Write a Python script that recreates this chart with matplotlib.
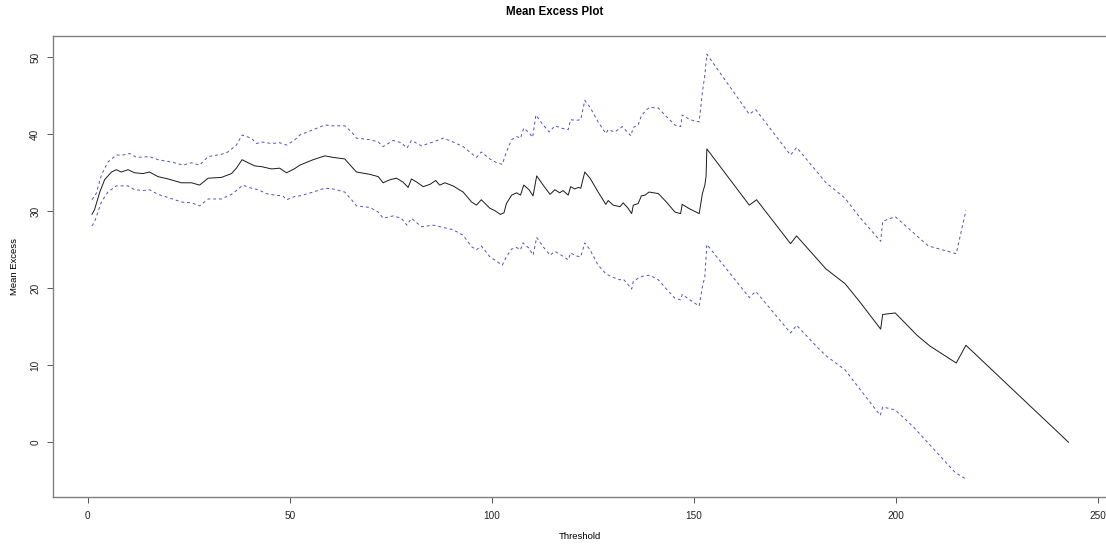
import matplotlib
matplotlib.use("Agg")
import matplotlib.pyplot as plt

plt.rcParams["font.family"] = ["Liberation Sans", "DejaVu Sans"]

# mean excess (solid black)
me_x = [1.07, 1.7, 3.0, 4.2, 5.9, 7.1, 8.3, 10.0, 11.6, 13.7, 15.3, 17.4, 19.9, 23.2,
        25.7, 27.7, 29.8, 33.1, 35.6, 36.8, 38.2, 39.7, 41.3, 43.0, 45.5, 47.5, 49.2,
        51.1, 52.5, 55.8, 58.7, 60.7, 63.6, 65.3, 66.5, 69.8, 71.9, 73.1, 74.8, 76.4,
        78.0, 79.3, 80.1, 81.4, 83.0, 84.7, 86.1, 87.1, 88.4, 90.4, 92.9, 95.0, 96.2,
        97.4, 99.5, 100.7, 102.1, 103.0, 103.6, 104.9, 106.1, 107.1, 107.9, 109.2,
        110.2, 111.1, 112.7, 114.4, 115.6, 116.8, 117.6, 118.9, 119.5, 120.5, 121.4,
        122.0, 123.0, 124.3, 126.3, 128.2, 128.8, 130.0, 131.7, 132.5, 133.7, 134.6,
        135.0, 136.2, 137.0, 137.9, 138.9, 141.2, 143.2, 145.3, 146.7, 147.1, 149.0,
        151.3, 152.1, 152.7, 153.0, 153.2, 163.7, 165.5, 173.9, 175.4, 182.7, 187.4,
        191.1, 196.2, 196.7, 199.8, 205.2, 208.4, 214.9, 217.3, 242.7]
me_y = [29.6, 30.2, 32.5, 34.1, 35.1, 35.4, 35.1, 35.4, 35.0, 34.9, 35.1, 34.5, 34.2, 33.7,
        33.7, 33.4, 34.3, 34.4, 34.9, 35.6, 36.7, 36.3, 35.9, 35.8, 35.5, 35.6, 35.0,
        35.5, 36.0, 36.7, 37.2, 37.0, 36.8, 35.8, 35.1, 34.8, 34.5, 33.7, 34.1, 34.3,
        33.8, 33.1, 34.2, 33.8, 33.2, 33.5, 34.0, 33.4, 33.7, 33.3, 32.5, 31.2, 30.8,
        31.5, 30.4, 30.1, 29.6, 29.8, 31.0, 32.1, 32.4, 32.1, 33.4, 32.8,
        32.0, 34.6, 33.4, 32.2, 32.8, 32.4, 32.7, 32.1, 33.2, 32.9, 33.1,
        33.0, 35.1, 34.3, 32.5, 30.9, 31.4, 30.8, 30.6, 31.1, 30.4, 29.7,
        30.8, 31.0, 32.0, 32.1, 32.5, 32.3, 31.2, 29.9, 29.7, 30.9, 30.3,
        29.7, 32.3, 33.4, 34.5, 38.1, 30.8, 31.5, 25.8, 26.8, 22.5, 20.6,
        18.2, 14.7, 16.6, 16.8, 13.9, 12.5, 10.3, 12.6, 0.0]

# upper confidence band (blue dashed)
up_x = [1.07, 2.1, 3.4, 5.0, 7.1, 8.7, 10.4, 12.1, 15.3, 17.4, 20.7, 23.6, 25.7, 27.7,
        29.8, 33.1, 34.7, 36.8, 38.2, 40.5, 41.8, 43.0, 45.5, 47.5, 49.2, 51.1, 52.5,
        55.8, 58.7, 60.7, 63.6, 65.3, 66.5, 69.8, 71.9, 73.1, 75.6, 77.6, 79.0, 80.1,
        82.6, 85.5, 88.0, 90.4, 92.9, 95.0, 96.2, 97.4, 99.5, 101.2, 102.6, 103.6,
        104.9, 106.1, 107.1, 107.9, 109.2, 110.1, 110.9, 112.7, 114.2, 115.6, 117.2,
        118.9, 119.5, 120.8, 122.0, 123.0, 124.3, 126.3, 128.2, 128.8, 130.4, 132.3,
        133.5, 134.4, 135.0, 136.2, 137.0, 138.3, 139.1, 141.2, 143.2, 145.3, 146.7,
        147.1, 149.0, 151.3, 152.1, 152.7, 153.2, 163.7, 165.3, 173.9, 175.4, 182.7,
        187.4, 190.9, 196.2, 196.7, 199.8, 208.0, 214.9, 217.3]
up_y = [31.5, 32.3, 34.7, 36.4, 37.3, 37.3, 37.5, 37.0, 37.1, 36.7, 36.4, 36.0, 36.3, 36.0,
        37.1, 37.4, 37.7, 38.6, 39.9, 39.5, 38.8, 39.0, 38.8, 38.9, 38.6, 39.2, 39.9,
        40.6, 41.2, 41.1, 41.1, 40.3, 39.5, 39.3, 39.0, 38.4, 39.2, 38.9, 38.2, 39.2,
        38.5, 39.0, 39.5, 39.0, 38.4, 37.5, 37.0, 37.7, 36.8, 36.3, 36.1, 37.7,
        39.3, 39.7, 39.5, 40.8, 40.2, 39.6, 42.5, 41.2, 40.3, 41.1, 40.8,
        40.6, 41.9, 41.8, 41.9, 44.4, 43.5, 41.6, 40.1, 40.6, 40.3, 41.0,
        40.3, 39.8, 40.9, 41.2, 42.4, 43.2, 43.5, 43.4, 42.3, 41.2, 41.0,
        42.5, 41.9, 41.6, 45.5, 47.7, 50.4, 42.6, 43.2, 37.3, 38.3, 33.7,
        31.7, 29.3, 26.1, 28.7, 29.3, 25.5, 24.5, 30.1]

# lower confidence band (blue dashed)
lo_x = [1.07, 1.7, 3.4, 5.0, 7.1, 10.0, 11.6, 13.7, 15.3, 17.4, 19.9, 23.2, 25.7, 27.7,
        29.8, 33.1, 35.6, 36.8, 38.4, 40.5, 42.2, 44.2, 46.3, 48.3, 49.2, 51.1, 52.5,
        55.8, 58.7, 60.7, 63.6, 65.3, 66.5, 69.8, 71.9, 73.1, 75.6, 77.6, 79.0, 80.1,
        82.6, 85.5, 88.0, 90.4, 92.9, 95.0, 96.2, 97.4, 99.5, 101.2, 102.6, 103.6,
        104.9, 106.1, 107.1, 107.7, 109.2, 110.2, 111.1, 112.7, 114.4, 115.6, 117.2,
        118.9, 119.5, 120.8, 122.0, 123.0, 124.3, 126.3, 128.2, 129.6, 131.7, 132.5,
        133.5, 134.6, 135.0, 136.2, 137.5, 139.1, 141.2, 143.2, 145.3, 146.7, 147.1,
        149.0, 151.3, 152.1, 152.7, 153.2, 163.7, 165.3, 173.9, 175.4, 180.8, 182.8,
        187.4, 189.0, 196.1, 196.7, 199.8, 204.3, 209.2, 214.6, 217.1]
lo_y = [28.1, 28.6, 31.2, 32.5, 33.3, 33.3, 32.8, 32.7, 32.8, 32.2, 31.8, 31.2, 31.1, 30.7,
        31.6, 31.6, 32.2, 32.7, 33.4, 33.0, 32.8, 32.3, 32.1, 32.0, 31.5, 31.9, 32.0,
        32.5, 33.0, 32.9, 32.5, 31.5, 30.7, 30.5, 29.9, 29.1, 29.4, 29.1, 28.2, 29.1,
        28.0, 28.2, 27.9, 27.6, 26.9, 25.4, 25.0, 25.5, 24.1, 23.5, 23.0, 24.1,
        25.1, 25.3, 25.0, 25.9, 25.2, 24.3, 26.6, 25.4, 24.3, 24.8, 24.3,
        23.7, 24.6, 24.2, 24.1, 25.9, 25.0, 23.0, 21.9, 21.5, 21.1, 21.2,
        20.6, 19.9, 20.9, 21.3, 21.6, 21.7, 21.1, 19.9, 18.7, 18.5, 19.2,
        18.5, 17.7, 20.2, 21.5, 25.7, 18.8, 19.6, 14.2, 15.2, 12.2, 11.2,
        9.4, 8.3, 3.5, 4.6, 4.2, 2.0, -0.8, -3.9, -4.7]

fig = plt.figure(figsize=(11.06, 5.46), dpi=100)
ax = fig.add_axes([0.0476, 0.0903, 0.9533, 0.8443])

ax.plot(me_x, me_y, color="#1a1a1a", lw=0.7)
ax.plot(up_x, up_y, color="#5050c0", lw=0.7, ls=(0, (3, 3)))
ax.plot(lo_x, lo_y, color="#5050c0", lw=0.7, ls=(0, (3, 3)))

ax.set_xlim(-8.66, 252.2)
ax.set_ylim(-7.06, 52.8)
ax.set_xticks([0, 50, 100, 150, 200, 250])
ax.set_yticks([0, 10, 20, 30, 40, 50])
for lab in ax.get_yticklabels():
    lab.set_rotation(90)
    lab.set_va("center")

ax.tick_params(axis="both", length=4, width=0.7, color="#555555",
               labelsize=7.2, labelcolor="#222222")
ax.tick_params(axis="x", pad=6)
ax.tick_params(axis="y", pad=5)
for sp in ax.spines.values():
    sp.set_color("#808080")
    sp.set_linewidth(1.0)
ax.spines["right"].set_visible(False)

ax.set_xlabel("Threshold", fontsize=6.8, labelpad=8)
ax.set_ylabel("Mean Excess", fontsize=6.8, labelpad=8)
fig.text(555 / 1106, 1 - 12 / 546, "Mean Excess Plot", ha="center", va="center",
         fontsize=8.3, fontweight="bold")

fig.savefig("out.png", dpi=100)
